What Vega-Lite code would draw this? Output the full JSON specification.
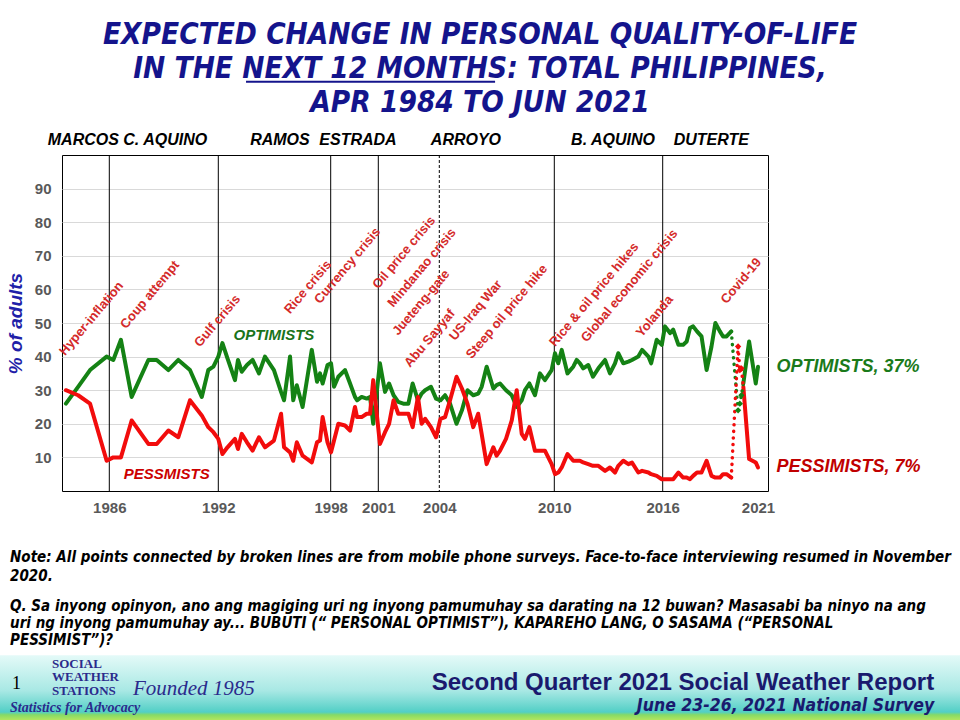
{
  "$schema": "https://vega.github.io/schema/vega-lite/v6.json",
  "width": 706,
  "height": 336,
  "autosize": {"type": "none"},
  "padding": {"left": 62, "top": 155, "right": 192, "bottom": 229},
  "background": "white",
  "config": {"view": {"stroke": "#000000", "strokeWidth": 1}, "font": "Liberation Sans"},
  "title": {
    "text": ["EXPECTED CHANGE IN PERSONAL QUALITY-OF-LIFE", "IN THE NEXT 12 MONTHS: TOTAL PHILIPPINES,", "APR 1984 TO JUN 2021"],
    "font": "DejaVu Sans Condensed, sans-serif",
    "fontSize": 29.5,
    "fontStyle": "italic",
    "fontWeight": "bold",
    "color": "#14148c",
    "anchor": "middle",
    "dx": 65,
    "dy": 53,
    "offset": 15,
    "lineHeight": 34
  },
  "datasets": {
    "survey": [
      {"date": 1984.22, "optimists": 26, "pessimists": 30},
      {"date": 1984.72, "optimists": 31, "pessimists": 28.5},
      {"date": 1985.21, "optimists": 36, "pessimists": 26},
      {"date": 1985.89, "optimists": 40, "pessimists": 9},
      {"date": 1986.22, "optimists": 39, "pessimists": 10},
      {"date": 1986.64, "optimists": 45, "pessimists": 10},
      {"date": 1987.23, "optimists": 28, "pessimists": 21},
      {"date": 1988.15, "optimists": 39, "pessimists": 14},
      {"date": 1988.61, "optimists": 39, "pessimists": 14},
      {"date": 1989.25, "optimists": 36, "pessimists": 18},
      {"date": 1989.80, "optimists": 39, "pessimists": 16},
      {"date": 1990.44, "optimists": 36, "pessimists": 27},
      {"date": 1991.09, "optimists": 28, "pessimists": 22.5},
      {"date": 1991.45, "optimists": 36, "pessimists": 19},
      {"date": 1991.73, "optimists": 37, "pessimists": 17.5},
      {"date": 1992.00, "optimists": 40, "pessimists": 15.5},
      {"date": 1992.22, "optimists": 44, "pessimists": 11},
      {"date": 1992.49, "optimists": 39.5, "pessimists": 13},
      {"date": 1992.89, "optimists": 33, "pessimists": 15.5},
      {"date": 1993.05, "optimists": 39, "pessimists": 12.5},
      {"date": 1993.25, "optimists": 35.5, "pessimists": 17},
      {"date": 1993.53, "optimists": 37.5, "pessimists": 14.5},
      {"date": 1993.83, "optimists": 39, "pessimists": 12},
      {"date": 1994.17, "optimists": 35, "pessimists": 16},
      {"date": 1994.49, "optimists": 40, "pessimists": 13},
      {"date": 1994.97, "optimists": 36, "pessimists": 15},
      {"date": 1995.35, "optimists": 29.5, "pessimists": 23},
      {"date": 1995.51, "optimists": 27, "pessimists": 13},
      {"date": 1995.83, "optimists": 40, "pessimists": 11.5},
      {"date": 1996.00, "optimists": 27, "pessimists": 9},
      {"date": 1996.19, "optimists": 31.5, "pessimists": 14.5},
      {"date": 1996.50, "optimists": 25, "pessimists": 10.5},
      {"date": 1996.99, "optimists": 42, "pessimists": 8.5},
      {"date": 1997.27, "optimists": 32.5, "pessimists": 14.5},
      {"date": 1997.43, "optimists": 35, "pessimists": 15},
      {"date": 1997.57, "optimists": 32, "pessimists": 22},
      {"date": 1997.83, "optimists": 37.5, "pessimists": 14.5},
      {"date": 1998.02, "optimists": 38, "pessimists": 11.5},
      {"date": 1998.21, "optimists": 31, "pessimists": 15},
      {"date": 1998.48, "optimists": 34, "pessimists": 20},
      {"date": 1998.90, "optimists": 36, "pessimists": 19.5},
      {"date": 1999.22, "optimists": 32, "pessimists": 18},
      {"date": 1999.53, "optimists": 28, "pessimists": 25},
      {"date": 1999.66, "optimists": 27, "pessimists": 22},
      {"date": 1999.95, "optimists": 28, "pessimists": 22},
      {"date": 2000.27, "optimists": 27.5, "pessimists": 23},
      {"date": 2000.48, "optimists": 28, "pessimists": 23},
      {"date": 2000.68, "optimists": 20, "pessimists": 33},
      {"date": 2001.08, "optimists": 38, "pessimists": 14},
      {"date": 2001.33, "optimists": 29.5, "pessimists": 17.5},
      {"date": 2001.53, "optimists": 32, "pessimists": 20},
      {"date": 2001.75, "optimists": 28.5, "pessimists": 27},
      {"date": 2001.98, "optimists": 26.5, "pessimists": 23},
      {"date": 2002.23, "optimists": 26, "pessimists": 23},
      {"date": 2002.48, "optimists": 26, "pessimists": 23},
      {"date": 2002.69, "optimists": 32, "pessimists": 19},
      {"date": 2002.95, "optimists": 27, "pessimists": 28},
      {"date": 2003.13, "optimists": 29, "pessimists": 20},
      {"date": 2003.30, "optimists": 30, "pessimists": 21.5},
      {"date": 2003.59, "optimists": 31, "pessimists": 19},
      {"date": 2003.84, "optimists": 27.5, "pessimists": 16},
      {"date": 2004.06, "optimists": 27, "pessimists": 21.5},
      {"date": 2004.30, "optimists": 28.5, "pessimists": 22},
      {"date": 2004.56, "optimists": 26, "pessimists": 27},
      {"date": 2004.90, "optimists": 20, "pessimists": 34},
      {"date": 2005.18, "optimists": 24, "pessimists": 30.5},
      {"date": 2005.47, "optimists": 30, "pessimists": 26},
      {"date": 2005.77, "optimists": 28.5, "pessimists": 19},
      {"date": 2006.03, "optimists": 29, "pessimists": 23},
      {"date": 2006.21, "optimists": 31, "pessimists": 17},
      {"date": 2006.47, "optimists": 37, "pessimists": 8},
      {"date": 2006.82, "optimists": 30.5, "pessimists": 13},
      {"date": 2006.99, "optimists": 31.5, "pessimists": 10.5},
      {"date": 2007.17, "optimists": 32, "pessimists": 12},
      {"date": 2007.48, "optimists": 30, "pessimists": 15.5},
      {"date": 2007.78, "optimists": 28.5, "pessimists": 21},
      {"date": 2008.04, "optimists": 25, "pessimists": 30},
      {"date": 2008.30, "optimists": 27, "pessimists": 17},
      {"date": 2008.47, "optimists": 30, "pessimists": 15.5},
      {"date": 2008.70, "optimists": 32, "pessimists": 19},
      {"date": 2008.99, "optimists": 28.5, "pessimists": 12},
      {"date": 2009.25, "optimists": 35, "pessimists": 12},
      {"date": 2009.51, "optimists": 33, "pessimists": 12},
      {"date": 2009.86, "optimists": 36, "pessimists": 8},
      {"date": 2010.04, "optimists": 41, "pessimists": 5},
      {"date": 2010.22, "optimists": 38, "pessimists": 5.5},
      {"date": 2010.41, "optimists": 42, "pessimists": 7},
      {"date": 2010.73, "optimists": 35, "pessimists": 11},
      {"date": 2011.05, "optimists": 37, "pessimists": 9},
      {"date": 2011.24, "optimists": 39, "pessimists": 9},
      {"date": 2011.42, "optimists": 38, "pessimists": 9},
      {"date": 2011.60, "optimists": 36.5, "pessimists": 8.5},
      {"date": 2011.88, "optimists": 37.5, "pessimists": 8},
      {"date": 2012.14, "optimists": 34, "pessimists": 7.5},
      {"date": 2012.44, "optimists": 36.5, "pessimists": 7.5},
      {"date": 2012.81, "optimists": 39, "pessimists": 6},
      {"date": 2013.08, "optimists": 35, "pessimists": 7},
      {"date": 2013.36, "optimists": 38, "pessimists": 5.5},
      {"date": 2013.54, "optimists": 41, "pessimists": 7.5},
      {"date": 2013.82, "optimists": 38, "pessimists": 9},
      {"date": 2014.10, "optimists": 38.5, "pessimists": 8},
      {"date": 2014.30, "optimists": 39, "pessimists": 8.5},
      {"date": 2014.65, "optimists": 40, "pessimists": 5.5},
      {"date": 2014.86, "optimists": 42, "pessimists": 6},
      {"date": 2015.21, "optimists": 40, "pessimists": 5.5},
      {"date": 2015.36, "optimists": 38, "pessimists": 5},
      {"date": 2015.67, "optimists": 45, "pessimists": 4.5},
      {"date": 2015.95, "optimists": 43.5, "pessimists": 3.5},
      {"date": 2016.13, "optimists": 49, "pessimists": 3.5},
      {"date": 2016.42, "optimists": 47, "pessimists": 3.5},
      {"date": 2016.60, "optimists": 48, "pessimists": 3.5},
      {"date": 2016.90, "optimists": 43.5, "pessimists": 5.5},
      {"date": 2017.17, "optimists": 43.5, "pessimists": 4},
      {"date": 2017.37, "optimists": 44.5, "pessimists": 4},
      {"date": 2017.56, "optimists": 48.5, "pessimists": 3.5},
      {"date": 2017.74, "optimists": 49, "pessimists": 4.5},
      {"date": 2017.96, "optimists": 47.5, "pessimists": 5.5},
      {"date": 2018.22, "optimists": 46, "pessimists": 5.5},
      {"date": 2018.51, "optimists": 36, "pessimists": 9},
      {"date": 2018.79, "optimists": 43, "pessimists": 4.5},
      {"date": 2019.01, "optimists": 50, "pessimists": 4},
      {"date": 2019.27, "optimists": 47.5, "pessimists": 4},
      {"date": 2019.45, "optimists": 46, "pessimists": 5},
      {"date": 2019.65, "optimists": 46, "pessimists": 5},
      {"date": 2019.92, "optimists": 47.5, "pessimists": 4},
      {"date": 2020.31, "optimists": 24, "pessimists": 43},
      {"date": 2020.41, "optimists": 26, "pessimists": 36},
      {"date": 2020.50, "optimists": 28.5, "pessimists": 36.5},
      {"date": 2020.61, "optimists": 32, "pessimists": 31},
      {"date": 2020.94, "optimists": 44.5, "pessimists": 9.5},
      {"date": 2021.32, "optimists": 32, "pessimists": 8.5},
      {"date": 2021.45, "optimists": 37, "pessimists": 7}
    ],
    "terms": [
      {"date": 1986, "line": "solid"},
      {"date": 1992, "line": "solid"},
      {"date": 1998, "line": "solid"},
      {"date": 2001, "line": "solid"},
      {"date": 2004, "line": "dashed"},
      {"date": 2010, "line": "solid"},
      {"date": 2016, "line": "solid"}
    ],
    "leaders": [
      {"date": 1987.0, "name": "MARCOS C. AQUINO"},
      {"date": 1995.29, "name": "RAMOS"},
      {"date": 1999.72, "name": "ESTRADA"},
      {"date": 2005.39, "name": "ARROYO"},
      {"date": 2013.25, "name": "B. AQUINO"},
      {"date": 2018.78, "name": "DUTERTE"}
    ],
    "events": [
      {"date": 1984.18, "pct": 40.1, "event": "Hyper-inflation"},
      {"date": 1986.92, "pct": 48.1, "event": "Coup attempt"},
      {"date": 1990.99, "pct": 42.6, "event": "Gulf crisis"},
      {"date": 1995.83, "pct": 52.5, "event": "Rice crisis"},
      {"date": 1997.43, "pct": 55.5, "event": "Currency crisis"},
      {"date": 2001.0, "pct": 60.0, "event": "Oil price crisis"},
      {"date": 2001.74, "pct": 54.5, "event": "Mindanao crisis"},
      {"date": 2001.98, "pct": 46.1, "event": "Jueteng-gate"},
      {"date": 2002.56, "pct": 36.6, "event": "Abu Sayyaf"},
      {"date": 2004.82, "pct": 44.6, "event": "US-Iraq War"},
      {"date": 2005.69, "pct": 39.1, "event": "Steep oil price hike"},
      {"date": 2010.04, "pct": 42.8, "event": "Rice & oil price hikes"},
      {"date": 2011.79, "pct": 44.1, "event": "Global economic crisis"},
      {"date": 2014.84, "pct": 45.6, "event": "Yolanda"},
      {"date": 2019.65, "pct": 55.5, "event": "Covid-19"}
    ]
  },
  "layer": [
    {
      "data": {"values": [{}]},
      "mark": {"type": "rect", "fill": {"gradient": "linear", "x1": 0, "y1": 0, "x2": 0, "y2": 1, "stops": [
        {"offset": 0, "color": "#e4faf8"},
        {"offset": 0.5, "color": "#a8e8e4"},
        {"offset": 0.8, "color": "#52cfc6"},
        {"offset": 0.84, "color": "#86da66"},
        {"offset": 0.93, "color": "#bde85c"},
        {"offset": 1, "color": "#f0f27a"}
      ]}},
      "encoding": {
        "x": {"datum": 1981.0, "type": "quantitative"},
        "x2": {"datum": 2034.0},
        "y": {"datum": -48.9, "type": "quantitative"},
        "y2": {"datum": -70}
      }
    },
    {
      "data": {"name": "terms"},
      "mark": {"type": "rule", "color": "#000000", "strokeWidth": 1},
      "encoding": {
        "x": {"field": "date", "type": "quantitative"},
        "strokeDash": {"field": "line", "type": "nominal", "scale": {"domain": ["solid", "dashed"], "range": [[1, 0], [3, 2]]}, "legend": null}
      }
    },
    {
      "data": {"name": "survey"},
      "transform": [{"filter": "datum.date <= 2019.93"}, {"fold": ["optimists", "pessimists"], "as": ["series", "pct"]}],
      "mark": {"type": "line", "strokeWidth": 4, "strokeJoin": "round", "strokeCap": "round"},
      "encoding": {
        "x": {
          "field": "date", "type": "quantitative",
          "scale": {"domain": [1984.06, 1986, 1992, 1998, 2001, 2004, 2010, 2016, 2022.02], "range": [0, 47.3, 156.3, 268.7, 316.3, 377.3, 492.3, 600.7, 706], "nice": false, "zero": false},
          "axis": {"values": [1986, 1992, 1998, 2001, 2004, 2010, 2016, 2021.45], "labelExpr": "datum.value > 2021 ? '2021' : format(datum.value, 'd')", "grid": false, "ticks": false, "domain": false, "labelPadding": 9, "labelFontSize": 15, "labelFontWeight": "bold", "labelColor": "#595959", "labelFont": "Liberation Sans", "labelOverlap": false, "labelFlush": false, "title": null}
        },
        "y": {
          "field": "pct", "type": "quantitative",
          "scale": {"domain": [0, 100], "nice": false},
          "axis": {"values": [10, 20, 30, 40, 50, 60, 70, 80, 90], "grid": true, "gridColor": "#d9d9d9", "ticks": false, "domain": false, "labelPadding": 11, "labelFontSize": 15, "labelFontWeight": "bold", "labelColor": "#595959", "labelFont": "Liberation Sans", "title": "% of adults", "titleFont": "Liberation Sans", "titleFontSize": 19, "titleFontStyle": "italic", "titleFontWeight": "bold", "titleColor": "#1f1fa8", "titlePadding": 9}
        },
        "color": {"field": "series", "type": "nominal", "scale": {"domain": ["optimists", "pessimists"], "range": ["#148214", "#f20c0c"]}, "legend": null}
      }
    },
    {
      "data": {"name": "survey"},
      "transform": [{"filter": "datum.date >= 2020.6"}, {"fold": ["optimists", "pessimists"], "as": ["series", "pct"]}],
      "mark": {"type": "line", "strokeWidth": 4, "strokeJoin": "round", "strokeCap": "round"},
      "encoding": {
        "x": {"field": "date", "type": "quantitative"},
        "y": {"field": "pct", "type": "quantitative"},
        "color": {"field": "series", "type": "nominal", "legend": null}
      }
    },
    {
      "data": {"name": "survey"},
      "transform": [{"filter": "datum.date >= 2019.9 && datum.date <= 2020.62"}, {"fold": ["optimists", "pessimists"], "as": ["series", "pct"]}],
      "mark": {"type": "line", "strokeWidth": 3.5, "strokeCap": "round", "strokeDash": [0.1, 6.5]},
      "encoding": {
        "x": {"field": "date", "type": "quantitative"},
        "y": {"field": "pct", "type": "quantitative"},
        "color": {"field": "series", "type": "nominal", "legend": null}
      }
    },
    {
      "data": {"name": "survey"},
      "transform": [{"filter": "datum.date > 2020 && datum.date < 2020.6"}, {"fold": ["optimists", "pessimists"], "as": ["series", "pct"]}],
      "mark": {"type": "point", "shape": "diamond", "filled": true, "size": 40, "opacity": 1},
      "encoding": {
        "x": {"field": "date", "type": "quantitative"},
        "y": {"field": "pct", "type": "quantitative"},
        "color": {"field": "series", "type": "nominal", "legend": null}
      }
    },
    {
      "data": {"name": "events"},
      "mark": {"type": "text", "angle": 310, "align": "left", "baseline": "alphabetic", "font": "Liberation Sans", "fontWeight": "bold", "fontSize": 13, "color": "#d42a2a"},
      "encoding": {
        "x": {"field": "date", "type": "quantitative"},
        "y": {"field": "pct", "type": "quantitative"},
        "text": {"field": "event"}
      }
    },
    {
      "data": {"name": "leaders"},
      "mark": {"type": "text", "align": "center", "baseline": "middle", "font": "Liberation Sans", "fontWeight": "bold", "fontStyle": "italic", "fontSize": 16, "color": "#000000"},
      "encoding": {
        "x": {"field": "date", "type": "quantitative"},
        "y": {"datum": 104.5, "type": "quantitative"},
        "text": {"field": "name"}
      }
    },
    {
      "data": {"values": [{}]},
      "mark": {"type": "rule", "color": "#14148c", "strokeWidth": 2},
      "encoding": {"x": {"datum": 1993.48, "type": "quantitative"}, "x2": {"datum": 2006.91}, "y": {"datum": 121.8, "type": "quantitative"}}
    },
    {
      "data": {"values": [{}]},
      "mark": {"type": "text", "text": "OPTIMISTS", "align": "center", "baseline": "middle", "font": "Liberation Sans", "fontWeight": "bold", "fontStyle": "italic", "fontSize": 15, "color": "#1a731a"},
      "encoding": {"x": {"datum": 1994.97, "type": "quantitative"}, "y": {"datum": 46.3, "type": "quantitative"}}
    },
    {
      "data": {"values": [{}]},
      "mark": {"type": "text", "text": "PESSMISTS", "align": "center", "baseline": "middle", "font": "Liberation Sans", "fontWeight": "bold", "fontStyle": "italic", "fontSize": 15, "color": "#cc0000"},
      "encoding": {"x": {"datum": 1989.16, "type": "quantitative"}, "y": {"datum": 5.1, "type": "quantitative"}}
    },
    {
      "data": {"values": [{}]},
      "mark": {"type": "text", "text": "OPTIMISTS, 37%", "align": "left", "baseline": "middle", "font": "Liberation Sans", "fontWeight": "bold", "fontStyle": "italic", "fontSize": 18, "color": "#1a7a1a"},
      "encoding": {"x": {"datum": 2022.5, "type": "quantitative"}, "y": {"datum": 37, "type": "quantitative"}}
    },
    {
      "data": {"values": [{}]},
      "mark": {"type": "text", "text": "PESSIMISTS, 7%", "align": "left", "baseline": "middle", "font": "Liberation Sans", "fontWeight": "bold", "fontStyle": "italic", "fontSize": 18, "color": "#c00000"},
      "encoding": {"x": {"datum": 2022.5, "type": "quantitative"}, "y": {"datum": 7, "type": "quantitative"}}
    },
    {
      "data": {"values": [{}]},
      "mark": {"type": "text", "text": ["Note: All points connected by broken lines are from mobile phone surveys. Face-to-face interviewing resumed in November", "2020."], "align": "left", "baseline": "alphabetic", "lineHeight": 19, "font": "DejaVu Sans Condensed, sans-serif", "fontWeight": "bold", "fontStyle": "italic", "fontSize": 15, "color": "#000000"},
      "encoding": {"x": {"datum": 1981.93, "type": "quantitative"}, "y": {"datum": -21.1, "type": "quantitative"}}
    },
    {
      "data": {"values": [{}]},
      "mark": {"type": "text", "text": ["Q. Sa inyong opinyon, ano ang magiging  uri ng inyong pamumuhay sa darating na 12 buwan? Masasabi ba ninyo na ang", "uri ng inyong pamumuhay ay... BUBUTI (“ PERSONAL OPTIMIST”), KAPAREHO LANG, O SASAMA (“PERSONAL", "PESSIMIST”)?"], "align": "left", "baseline": "alphabetic", "lineHeight": 17, "font": "DejaVu Sans Condensed, sans-serif", "fontWeight": "bold", "fontStyle": "italic", "fontSize": 15, "color": "#000000"},
      "encoding": {"x": {"datum": 1981.93, "type": "quantitative"}, "y": {"datum": -35.7, "type": "quantitative"}}
    },
    {
      "data": {"values": [{}]},
      "mark": {"type": "text", "text": "Second Quarter 2021 Social Weather Report", "align": "right", "baseline": "alphabetic", "font": "Liberation Sans", "fontWeight": "bold", "fontSize": 24, "color": "#1a1a6e"},
      "encoding": {"x": {"datum": 2031.52, "type": "quantitative"}, "y": {"datum": -59.3, "type": "quantitative"}}
    },
    {
      "data": {"values": [{}]},
      "mark": {"type": "text", "text": "June 23-26, 2021 National Survey", "align": "right", "baseline": "alphabetic", "font": "DejaVu Sans Condensed, sans-serif", "fontWeight": "bold", "fontStyle": "italic", "fontSize": 17.5, "color": "#1a1a6e"},
      "encoding": {"x": {"datum": 2031.52, "type": "quantitative"}, "y": {"datum": -65.4, "type": "quantitative"}}
    },
    {
      "data": {"values": [{}]},
      "mark": {"type": "text", "text": ["SOCIAL", "WEATHER", "STATIONS"], "align": "left", "baseline": "alphabetic", "lineHeight": 13.5, "font": "Liberation Serif", "fontWeight": "bold", "fontSize": 13, "color": "#2b2b8c"},
      "encoding": {"x": {"datum": 1983.65, "type": "quantitative"}, "y": {"datum": -52.6, "type": "quantitative"}}
    },
    {
      "data": {"values": [{}]},
      "mark": {"type": "text", "text": "Founded 1985", "align": "left", "baseline": "alphabetic", "font": "Liberation Serif", "fontStyle": "italic", "fontSize": 21, "color": "#2b2b8c"},
      "encoding": {"x": {"datum": 1987.3, "type": "quantitative"}, "y": {"datum": -60.6, "type": "quantitative"}}
    },
    {
      "data": {"values": [{}]},
      "mark": {"type": "text", "text": "Statistics for Advocacy", "align": "left", "baseline": "alphabetic", "font": "Liberation Serif", "fontWeight": "bold", "fontStyle": "italic", "fontSize": 14, "color": "#2b2b8c"},
      "encoding": {"x": {"datum": 1981.93, "type": "quantitative"}, "y": {"datum": -65.7, "type": "quantitative"}}
    },
    {
      "data": {"values": [{}]},
      "mark": {"type": "text", "text": "1", "align": "left", "baseline": "alphabetic", "font": "Liberation Serif", "fontSize": 18, "color": "#000000"},
      "encoding": {"x": {"datum": 1982.01, "type": "quantitative"}, "y": {"datum": -58.8, "type": "quantitative"}}
    }
  ]
}
